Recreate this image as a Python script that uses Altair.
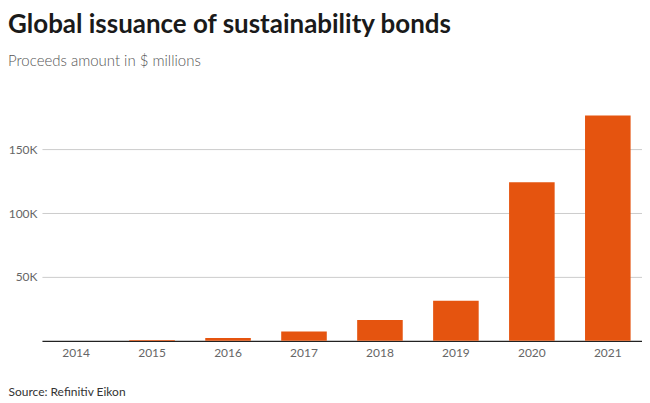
import altair as alt
import pandas as pd

years = ["2014", "2015", "2016", "2017", "2018", "2019", "2020", "2021"]
proceeds = [40, 700, 2100, 7300, 16200, 31300, 124300, 176500]
y_ticks = [50000, 100000, 150000]

df = pd.DataFrame({"year": years, "proceeds": proceeds})

FONT = "Lato"

chart = alt.Chart(df).mark_bar(color="#e5540f").encode(
    x=alt.X(
        "year:N",
        sort=years,
        scale=alt.Scale(paddingInner=0.4, paddingOuter=0.15),
        axis=alt.Axis(
            title="Source: Refinitiv Eikon",
            titleAnchor="start",
            titleAlign="left",
            titleBaseline="alphabetic",
            titleX=-34,
            titleY=55,
            titleFont=FONT,
            titleFontSize=12,
            titleFontWeight="normal",
            titleColor="#333333",
            labelAngle=0,
            labelFont=FONT,
            labelFontSize=12,
            labelColor="#666666",
            labelPadding=7,
            ticks=False,
            domainColor="#222222",
            domainWidth=1.2,
        ),
    ),
    y=alt.Y(
        "proceeds:Q",
        scale=alt.Scale(domain=[0, 180000], nice=False),
        axis=alt.Axis(
            title=None,
            values=y_ticks,
            format="~s",
            labelExpr="replace(datum.label, 'k', 'K')",
            labelFont=FONT,
            labelFontSize=12,
            labelColor="#666666",
            labelPadding=5,
            ticks=False,
            domain=False,
            gridColor="#cccccc",
            gridWidth=1,
        ),
    ),
).properties(
    width=601,
    height=230,
    padding={"left": 0, "top": 4, "right": 0, "bottom": 0},
    title=alt.TitleParams(
        text="Global issuance of sustainability bonds",
        subtitle="Proceeds amount in $ millions",
        anchor="start",
        frame="bounds",
        font=FONT,
        fontSize=26,
        fontWeight="bold",
        color="#1a1a1a",
        subtitleFont=FONT,
        subtitleFontSize=15,
        subtitleFontWeight=300,
        subtitleColor="#555555",
        subtitlePadding=16,
        offset=42,
    ),
).configure_view(stroke=None)

chart.save("out.html", embed_options={"renderer": "svg", "actions": False})
